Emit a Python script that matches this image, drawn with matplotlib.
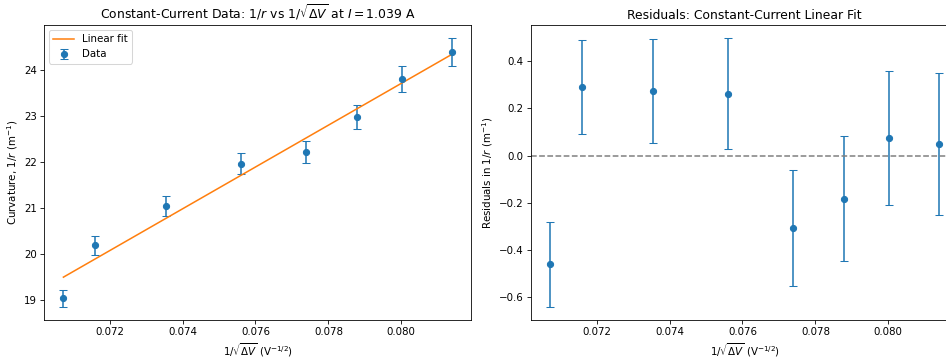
import matplotlib
matplotlib.use('Agg')
import matplotlib.pyplot as plt
import numpy as np

# constant-current run, I = 1.039 A
x = np.array([0.07073, 0.07161, 0.07354, 0.07559, 0.07739, 0.07879, 0.08003, 0.08138])
curv = np.array([19.03, 20.18, 21.04, 21.96, 22.21, 22.97, 23.79, 24.38])
curv_err = np.array([0.18, 0.20, 0.22, 0.235, 0.245, 0.265, 0.285, 0.30])

# linear fit (unweighted)
slope, icept = np.polyfit(x, curv, 1)
fit = slope * x + icept
resid = curv - fit

dpi = 74
fig = plt.figure(figsize=(946 / dpi, 358 / dpi), dpi=dpi)
ax1 = fig.add_axes([44 / 946, 38 / 358, 427 / 946, 295 / 358])
ax2 = fig.add_axes([531 / 946, 38 / 358, 427 / 946, 295 / 358])

ax1.errorbar(x, curv, yerr=curv_err, fmt='o', capsize=4, label='Data')
ax1.plot(x, fit, label='Linear fit')
ax1.set_xlabel(r'$1/\sqrt{\Delta V}$ (V$^{-1/2}$)')
ax1.set_ylabel(r'Curvature, $1/r$ (m$^{-1}$)')
ax1.set_title(r'Constant-Current Data: $1/r$ vs $1/\sqrt{\Delta V}$ at $I = 1.039$ A')
ax1.legend(loc='upper left')

ax2.errorbar(x, resid, yerr=curv_err, fmt='o', capsize=4)
ax2.axhline(0, color='gray', linestyle='--')
ax2.set_xlabel(r'$1/\sqrt{\Delta V}$ (V$^{-1/2}$)')
ax2.set_ylabel(r'Residuals in $1/r$ (m$^{-1}$)')
ax2.set_title('Residuals: Constant-Current Linear Fit')

fig.savefig('out.png', dpi=dpi)
